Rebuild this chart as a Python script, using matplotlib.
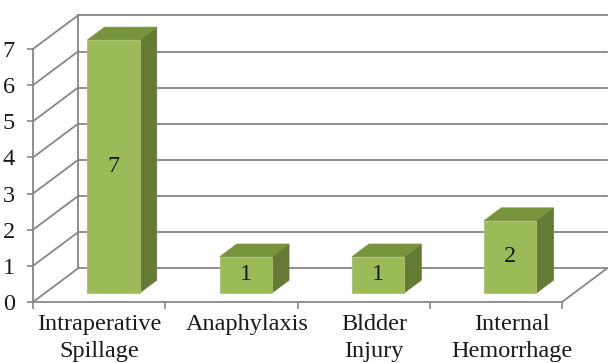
import matplotlib
matplotlib.use('Agg')
from matplotlib import pyplot as plt
from matplotlib.patches import Polygon

# data
categories = ['Intraperative\nSpillage', 'Anaphylaxis', 'Bldder\nInjury', 'Internal\nHemorrhage']
counts = [7, 1, 1, 2]
yticks = [0, 1, 2, 3, 4, 5, 6, 7]

# oblique depth of the chart box (in category units / value units)
DX, DY = 0.34, 0.93
F0, F1 = 0.27, 0.65  # depth fractions of bar front and back face
BAR_OFF, BAR_W = 0.32, 0.395
GRID = '#878787'
FRONT, TOP, SIDE = '#9bbb59', '#77933c', '#647a35'
FS = 17.5

plt.rcParams['font.family'] = ['Liberation Serif', 'DejaVu Serif']

fig = plt.figure(figsize=(6.09, 3.63), dpi=100)
ax = fig.add_axes([33/609, 61/363, 529/609, 253/363])
ax.set_xlim(0, 4)
ax.set_ylim(0, 7)
n = len(categories)

# back wall + left wall gridlines
for k in yticks:
    ax.plot([DX, n + DX], [k + DY, k + DY], color=GRID, lw=1.3, clip_on=False, zorder=1)
    ax.plot([0, DX], [k, k + DY], color=GRID, lw=1.3, clip_on=False, zorder=1)
ax.plot([DX, DX], [DY, yticks[-1] + DY], color=GRID, lw=1.3, clip_on=False, zorder=1)
ax.plot([n, n + DX], [0, DY], color=GRID, lw=1.3, clip_on=False, zorder=1)

# 3d bars
for i, v in enumerate(counts):
    x0 = i + BAR_OFF + F0 * DX
    y0 = F0 * DY
    x1 = x0 + BAR_W
    ddx = (F1 - F0) * DX
    ddy = (F1 - F0) * DY
    front = Polygon([(x0, y0), (x1, y0), (x1, y0 + v), (x0, y0 + v)], closed=True,
                    facecolor=FRONT, edgecolor='#a9c46e', lw=0.6, clip_on=False, zorder=3)
    top = Polygon([(x0, y0 + v), (x1, y0 + v), (x1 + ddx, y0 + v + ddy), (x0 + ddx, y0 + v + ddy)],
                  closed=True, facecolor=TOP, edgecolor=TOP, lw=0.5, clip_on=False, zorder=3)
    side = Polygon([(x1, y0), (x1 + ddx, y0 + ddy), (x1 + ddx, y0 + v + ddy), (x1, y0 + v)],
                   closed=True, facecolor=SIDE, edgecolor=SIDE, lw=0.5, clip_on=False, zorder=3)
    for p in (side, top, front):
        ax.add_patch(p)
    ax.text((x0 + x1) / 2, y0 + v / 2, str(v), ha='center', va='center',
            fontsize=FS, color='#1a1a1a', zorder=4)

# axes
for s in ['top', 'right']:
    ax.spines[s].set_visible(False)
for s in ['left', 'bottom']:
    ax.spines[s].set_color(GRID)
    ax.spines[s].set_linewidth(1.3)
    ax.spines[s].set_zorder(2)
ax.set_yticks(yticks)
ax.tick_params(axis='y', length=4, width=1.2, color=GRID, labelsize=FS,
               labelcolor='#1a1a1a', pad=9)
ax.set_xticks(range(n + 1))
ax.set_xticklabels([''] * (n + 1))
ax.tick_params(axis='x', length=5, width=1.2, color=GRID)

label_nudge = [0.0, 0.12, 0.08, 0.12]
for i, c in enumerate(categories):
    ax.text(i + 0.5 + label_nudge[i], -0.33, c, ha='center', va='top', fontsize=FS,
            color='#1a1a1a', linespacing=1.38, clip_on=False)

fig.savefig('out.png', dpi=100)
